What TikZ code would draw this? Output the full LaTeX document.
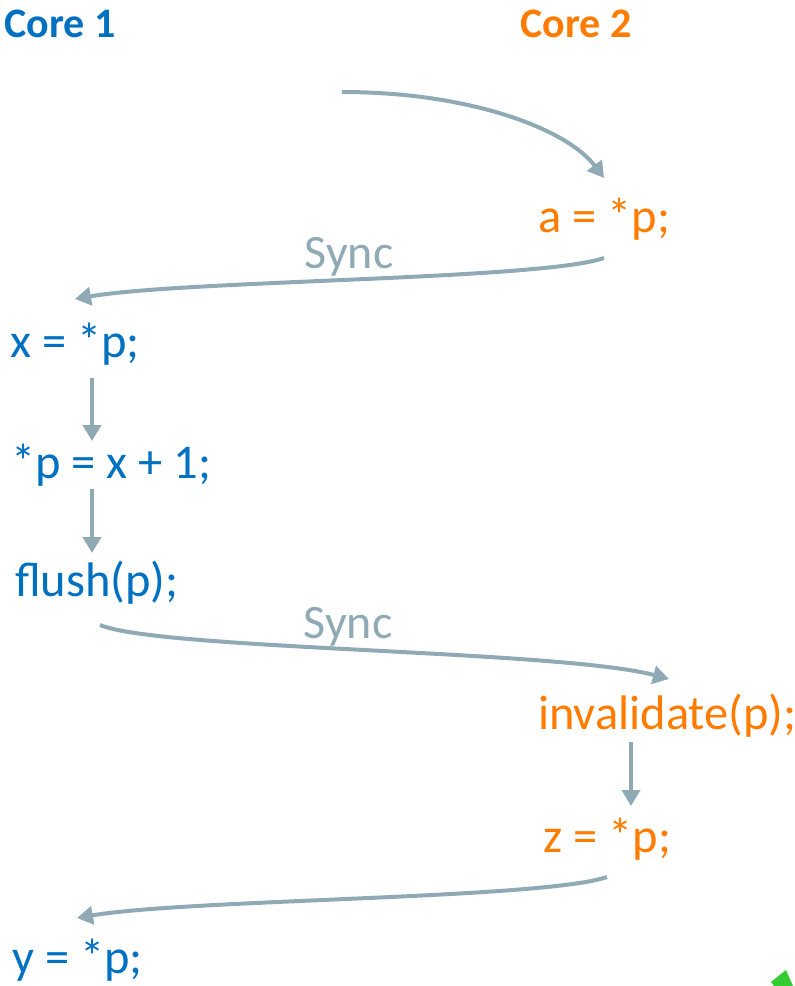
\documentclass[tikz,border=0pt]{standalone}
\usepackage{fontspec}
\setmainfont{Carlito}
\usetikzlibrary{arrows.meta}
\definecolor{cblue}{HTML}{0070C0}
\definecolor{corange}{HTML}{FF7C00}
\definecolor{cgray}{HTML}{8FA9B5}
\definecolor{cgreen}{HTML}{33CC33}
\begin{document}
\begin{tikzpicture}[x=1pt,y=-1pt,
  code/.style={font=\fontsize{48.5}{52}\selectfont, inner sep=0pt, anchor=base west},
  cone/.style={code, text=cblue},
  ctwo/.style={code, text=corange},
  title/.style={font=\fontsize{42}{46}\selectfont\bfseries, inner sep=0pt, anchor=base west},
  conn/.style={draw=cgray, line width=4pt, -{Triangle[length=16pt,width=18pt]}},
  synclabel/.style={font=\fontsize{48}{52}\selectfont, text=cgray, inner sep=0pt, anchor=base}]
\useasboundingbox (0,0) rectangle (795,986);

% titles
\node[title, text=cblue] (core1) at (4,37) {Core 1};
\node[title, text=corange] (core2) at (520,37) {Core 2};

% statements
\node[ctwo] (a) at (538,232) {a = *p;};
\node[cone] (x) at (10,357) {x = *p;};
\node[cone] (inc) at (11,478) {*p = x + 1;};
\node[cone] (fl) at (15,596) {flush(p);};
\node[ctwo] (inv) at (538,729) {invalidate(p);};
\node[ctwo] (z) at (543,852) {z = *p;};
\node[cone] (y) at (12,973) {y = *p;};

% sync labels
\node[synclabel] (sync1) at (349,268) {Sync};
\node[synclabel] (sync2) at (348,638) {Sync};

% connector end points
\coordinate (start) at (342,92);
\coordinate (aIn) at (604,178);
\coordinate (aOut) at (604,258);
\coordinate (xIn) at (75,299);
\coordinate (xOut) at (92,378);
\coordinate (incIn) at (92,441);
\coordinate (incOut) at (92,489);
\coordinate (flIn) at (92,553);
\coordinate (flOut) at (100,625);
\coordinate (invIn) at (669,679);
\coordinate (invOut) at (631,742);
\coordinate (zIn) at (631,806);
\coordinate (zOut) at (607,877);
\coordinate (yIn) at (77,918);

% connectors
\draw[conn] (start) .. controls (470,92) and (567,129) .. (aIn);
\draw[conn] (aOut) .. controls (540,280) and (185,280) .. (xIn);
\draw[conn] (xOut) -- (incIn);
\draw[conn] (incOut) -- (flIn);
\draw[conn] (flOut) .. controls (160,650) and (560,650) .. (invIn);
\draw[conn] (invOut) -- (zIn);
\draw[conn] (zOut) .. controls (543,899) and (188,899) .. (yIn);

% small green mark in the corner
\fill[cgreen] (771,982) -- (786,970) -- (793,986) -- (774,986) -- cycle;
\end{tikzpicture}
\end{document}
